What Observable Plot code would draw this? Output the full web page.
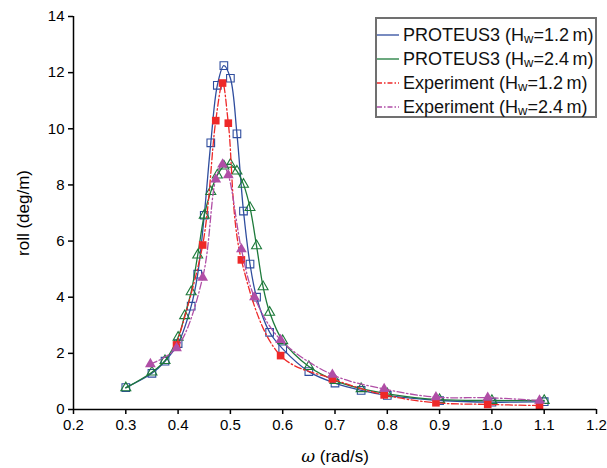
<!DOCTYPE html>
<html><head><meta charset="utf-8">
<script src="https://cdn.jsdelivr.net/npm/d3@7"></script>
<script src="https://cdn.jsdelivr.net/npm/@observablehq/plot@0.6"></script>
<style>
body{margin:0;background:#fff;}
#wrap{position:relative;width:607px;height:468px;font-family:"Liberation Sans",Arial,sans-serif;}
#legend{position:absolute;left:375px;top:17px;width:222px;height:101px;border:2px solid #707070;box-sizing:border-box;background:#fff;font-size:18px;color:#111;padding-top:4px;}
.row{height:24px;display:flex;align-items:center;white-space:nowrap;}
.row svg{margin-left:0px;margin-right:4px;}
.sub{font-size:13px;position:relative;top:2px;}
</style>
</head><body>
<div id="wrap"><div id="chart"></div><div id="legend"></div></div>
<script>
// PROTEUS3 (Hw=1.2 m)
const omegaP1 = [0.3,0.35,0.375,0.4,0.425,0.4375,0.45,0.4625,0.475,0.4875,0.5,0.5125,0.525,0.5375,0.55,0.575,0.6,0.65,0.7,0.75,0.8,0.9,1.0,1.1];
const rollP1  = [0.78,1.29,1.72,2.35,3.68,4.82,6.92,9.5,11.55,12.25,11.8,9.82,7.07,5.18,4.0,2.75,2.16,1.35,0.94,0.68,0.5,0.32,0.26,0.28];
// PROTEUS3 (Hw=2.4 m)
const omegaP2 = [0.3,0.35,0.375,0.4,0.4125,0.425,0.4375,0.45,0.4625,0.475,0.4875,0.5,0.5125,0.525,0.5375,0.55,0.5625,0.575,0.6,0.65,0.7,0.75,0.8,0.9,1.0,1.1];
const rollP2  = [0.77,1.33,1.74,2.57,3.34,4.19,5.5,6.92,7.76,8.35,8.67,8.73,8.49,8.02,7.19,5.83,4.37,3.46,2.45,1.53,1.03,0.74,0.56,0.35,0.32,0.32];
// Experiment (Hw=1.2 m)
const omegaE1 = [0.397,0.447,0.472,0.485,0.496,0.521,0.596,0.695,0.794,0.893,0.992,1.091];
const rollE1  = [2.3,5.86,10.29,11.63,10.2,5.33,1.92,1.09,0.52,0.24,0.18,0.14];
// Experiment (Hw=2.4 m)
const omegaE2 = [0.347,0.397,0.447,0.472,0.485,0.496,0.521,0.546,0.596,0.695,0.794,0.893,0.992,1.091];
const rollE2  = [1.62,2.19,4.7,8.2,8.73,8.35,5.71,4.0,2.48,1.24,0.73,0.44,0.42,0.32];

const xTicks = [0.2,0.3,0.4,0.5,0.6,0.7,0.8,0.9,1.0,1.1,1.2];
const yTicks = [0,2,4,6,8,10,12,14];
const seriesNames = ["PROTEUS3 (Hw=1.2 m)","PROTEUS3 (Hw=2.4 m)","Experiment (Hw=1.2 m)","Experiment (Hw=2.4 m)"];

const toRows = (xs, ys) => xs.map((x, i) => ({x, y: ys[i]}));
const P1 = toRows(omegaP1, rollP1), P2 = toRows(omegaP2, rollP2), E1 = toRows(omegaE1, rollE1), E2 = toRows(omegaE2, rollE2);

const BLUE = "#2f4d9e", GREEN = "#1d7a3a", RED = "#ee2828", PURPLE = "#b04ea6";
const DASH = "7,2.5,1.5,2.5";

const chart = Plot.plot({
  width: 607, height: 468,
  marginLeft: 73, marginRight: 11, marginTop: 16, marginBottom: 59,
  style: {fontFamily: "'Liberation Sans', Arial, sans-serif", fontSize: "15px", color: "#000", background: "#fff", overflow: "visible"},
  x: {domain: [0.2, 1.2], ticks: xTicks, tickFormat: d3.format(".1f"), label: "ω (rad/s)", labelAnchor: "center", labelArrow: "none", labelOffset: 52, tickSize: 5, tickPadding: 5},
  y: {domain: [0, 14], ticks: yTicks, tickFormat: d3.format("d"), label: "roll (deg/m)", labelAnchor: "center", labelArrow: "none", labelOffset: 57, tickSize: 5, tickPadding: 4},
  marks: [
    Plot.line(P1, {x: "x", y: "y", curve: "catmull-rom", stroke: BLUE, strokeWidth: 1.3}),
    Plot.dot(P1, {x: "x", y: "y", symbol: "square", r: 4.3, stroke: BLUE, fill: "none", strokeWidth: 1.1}),
    Plot.line(P2, {x: "x", y: "y", curve: "catmull-rom", stroke: GREEN, strokeWidth: 1.3}),
    Plot.dot(P2, {x: "x", y: "y", symbol: "triangle", r: 3.7, stroke: GREEN, fill: "none", strokeWidth: 1.1}),
    Plot.line(E1, {x: "x", y: "y", curve: "catmull-rom", stroke: RED, strokeWidth: 1.3, strokeDasharray: DASH}),
    Plot.dot(E1, {x: "x", y: "y", symbol: "square", r: 4.3, fill: RED, stroke: "none"}),
    Plot.line(E2, {x: "x", y: "y", curve: "catmull-rom", stroke: PURPLE, strokeWidth: 1.3, strokeDasharray: DASH}),
    Plot.dot(E2, {x: "x", y: "y", symbol: "triangle", r: 4.0, fill: PURPLE, stroke: "none"}),
    Plot.ruleY([0], {stroke: "#000", strokeWidth: 1.5}),
    Plot.ruleX([0.2], {stroke: "#000", strokeWidth: 1.5})
  ]
});
document.getElementById("chart").appendChild(chart);

// axis label styling
chart.querySelectorAll("g[aria-label='x-axis label'] text, g[aria-label='y-axis label'] text").forEach(t => {
  t.style.fontSize = "17px";
  t.textContent = t.textContent.replace(/\s*[↑→←↓]\s*/g, "");
});
const xl = chart.querySelector("g[aria-label='x-axis label'] text");
if (xl) {
  xl.textContent = "";
  const ns = "http://www.w3.org/2000/svg";
  const a = document.createElementNS(ns, "tspan");
  a.setAttribute("font-style", "italic");
  a.setAttribute("font-family", "'DejaVu Serif', serif");
  a.textContent = "ω";
  const b = document.createElementNS(ns, "tspan");
  b.textContent = " (rad/s)";
  xl.appendChild(a); xl.appendChild(b);
}
chart.querySelectorAll("g[aria-label='x-axis tick'], g[aria-label='y-axis tick']").forEach(g => { g.setAttribute("stroke", "#000"); g.setAttribute("stroke-width", "1.5"); });

// legend
const legendStyles = [
  {color: BLUE, dash: null}, {color: GREEN, dash: null},
  {color: RED, dash: "5,2,1.5,2"}, {color: PURPLE, dash: "5,2,1.5,2"}
];
const leg = document.getElementById("legend");
seriesNames.forEach((name, i) => {
  const m = name.match(/^(.*\(H)w(=.*) m\)$/);
  const row = document.createElement("div");
  row.className = "row";
  const st = legendStyles[i];
  row.innerHTML = `<svg width="22" height="10"><line x1="0" y1="5" x2="22" y2="5" stroke="${st.color}" stroke-width="1.3" ${st.dash ? `stroke-dasharray="${st.dash}"` : ""}/></svg><span>${m[1]}<span class="sub">w</span>${m[2]}&#8201;m)</span>`;
  leg.appendChild(row);
});
</script>
</body></html>
